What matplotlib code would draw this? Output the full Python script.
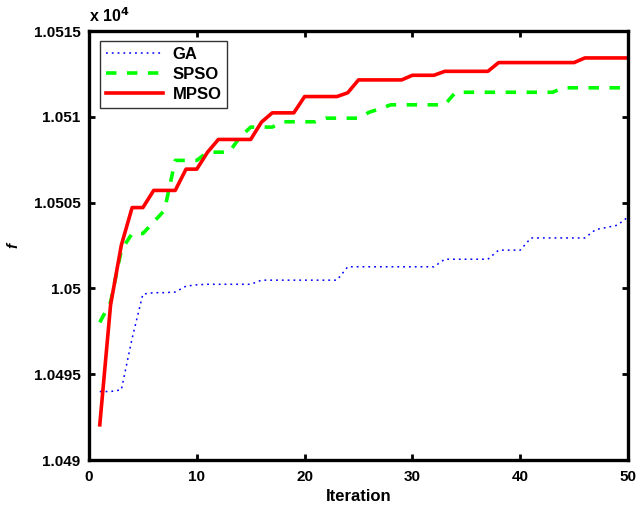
import numpy as np
import matplotlib
matplotlib.use("Agg")
import matplotlib.pyplot as plt
from matplotlib.ticker import FuncFormatter

plt.rcParams['font.family'] = ['Liberation Sans', 'DejaVu Sans']
plt.rcParams['font.weight'] = 'bold'

# datos (valores de f)
iteraciones = np.arange(1, 51)

ga = [10493.99, 10493.99, 10494.09, 10497.09, 10499.67, 10499.75, 10499.75, 10499.79, 10500.13, 10500.21,
      10500.24, 10500.24, 10500.24, 10500.24, 10500.24, 10500.48, 10500.48, 10500.48, 10500.48, 10500.48,
      10500.48, 10500.48, 10500.48, 10501.26, 10501.26, 10501.26, 10501.26, 10501.26, 10501.26, 10501.26,
      10501.26, 10501.26, 10501.70, 10501.70, 10501.70, 10501.70, 10501.70, 10502.23, 10502.23, 10502.23,
      10502.94, 10502.94, 10502.94, 10502.94, 10502.94, 10502.94, 10503.43, 10503.55, 10503.68, 10504.16]

spso = [10498.02, 10499.20, 10502.23, 10503.20, 10503.20, 10503.87, 10504.55, 10507.46, 10507.46, 10507.46,
        10507.94, 10507.94, 10507.94, 10508.81, 10509.40, 10509.40, 10509.40, 10509.71, 10509.71, 10509.71,
        10509.71, 10509.92, 10509.92, 10509.92, 10509.92, 10510.27, 10510.47, 10510.70, 10510.70, 10510.70,
        10510.70, 10510.70, 10510.70, 10511.43, 10511.43, 10511.43, 10511.43, 10511.43, 10511.43, 10511.43,
        10511.43, 10511.43, 10511.43, 10511.69, 10511.69, 10511.69, 10511.69, 10511.69, 10511.69, 10511.69]

mpso = [10492.05, 10499.03, 10502.52, 10504.71, 10504.71, 10505.71, 10505.71, 10505.71, 10506.95, 10506.95,
        10507.94, 10508.68, 10508.68, 10508.68, 10508.68, 10509.69, 10510.23, 10510.23, 10510.23, 10511.18,
        10511.18, 10511.18, 10511.18, 10511.40, 10512.15, 10512.15, 10512.15, 10512.15, 10512.15, 10512.42,
        10512.42, 10512.42, 10512.65, 10512.65, 10512.65, 10512.65, 10512.65, 10513.16, 10513.16, 10513.16,
        10513.16, 10513.16, 10513.16, 10513.16, 10513.16, 10513.43, 10513.43, 10513.43, 10513.43, 10513.43]

yticks = [10490, 10495, 10500, 10505, 10510, 10515]
xticks = [0, 10, 20, 30, 40, 50]

fig = plt.figure(figsize=(6.41, 5.07), dpi=100)
ax = fig.add_axes([89/641, 1 - 460/507, (628 - 89)/641, (460 - 31)/507])

ax.plot(iteraciones, ga, color='#0000ff', linestyle=(0, (1.2, 2.6)), linewidth=1.1, label='GA')
ax.plot(iteraciones, spso, color='#00ff00', linestyle='--', linewidth=2.6, dashes=(2.9, 2.9), label='SPSO')
ax.plot(iteraciones, mpso, color='#ff0000', linestyle='-', linewidth=2.6, label='MPSO')

ax.set_xlim(0, 50)
ax.set_ylim(10490, 10515)
ax.set_xticks(xticks)
ax.set_yticks(yticks)
ax.yaxis.set_major_formatter(FuncFormatter(lambda v, p: f"{v/1e4:g}"))

for s in ax.spines.values():
    s.set_linewidth(2.4)
ax.tick_params(direction='in', length=4, width=2, top=True, right=True, labelsize=11)
ax.tick_params(axis='x', pad=7)
ax.tick_params(axis='y', pad=6)
for lab in ax.get_xticklabels() + ax.get_yticklabels():
    lab.set_fontweight('bold')

ax.set_xlabel('Iteration', fontsize=12, fontweight='bold', labelpad=4)
ax.set_ylabel('f', fontsize=11, fontweight='bold', style='italic', labelpad=10)
ax.text(0.0, 1.015, 'x 10$^{4}$', transform=ax.transAxes, fontsize=11.5, fontweight='bold', ha='left', va='bottom')

leg = ax.legend(loc='upper left', bbox_to_anchor=(11/539, 1 - 10/429), borderaxespad=0, fontsize=12,
                frameon=True, fancybox=False, edgecolor='black', handlelength=3.4, handletextpad=0.6,
                borderpad=0.35, labelspacing=0.3)
leg.get_frame().set_linewidth(1.0)
for t in leg.get_texts():
    t.set_fontweight('bold')

fig.savefig('out.png', dpi=100)
